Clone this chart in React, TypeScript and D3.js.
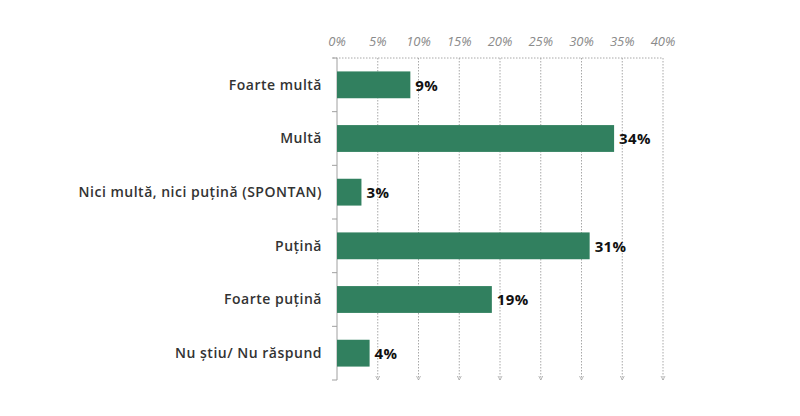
import React, { useRef, useEffect } from 'react';
import * as d3 from 'd3';

const categories = [
  'Foarte multă',
  'Multă',
  'Nici multă, nici puțină (SPONTAN)',
  'Puțină',
  'Foarte puțină',
  'Nu știu/ Nu răspund',
];
const values = [9, 34, 3, 31, 19, 4];
const ticks = [0, 5, 10, 15, 20, 25, 30, 35, 40];

const App = () => {
  const svgRef = useRef<SVGSVGElement>(null);

  useEffect(() => {
    if (!svgRef.current) return;
    const svg = d3.select(svgRef.current);
    svg.selectAll('*').remove();

    const margin = { top: 58, left: 337, right: 137, bottom: 36 };
    const width = 800 - margin.left - margin.right;
    const height = 416 - margin.top - margin.bottom;

    const g = svg.append('g').attr('transform', `translate(${margin.left},${margin.top})`);

    const x = d3.scaleLinear().domain([0, 40]).range([0, width]);
    const y = d3.scaleBand().domain(categories).range([0, height]).paddingInner(0.5).paddingOuter(0.25);

    // dotted gridlines with little arrows at the bottom
    ticks.forEach(t => {
      if (t > 0) {
        g.append('line')
          .attr('x1', x(t)).attr('x2', x(t))
          .attr('y1', 0).attr('y2', height)
          .attr('stroke', '#a8a8a8')
          .attr('stroke-dasharray', '1.5,1.5');
        g.append('path')
          .attr('d', `M${x(t) - 2},${height - 4} L${x(t)},${height} L${x(t) + 2},${height - 4}`)
          .attr('fill', 'none')
          .attr('stroke', '#a8a8a8')
          .attr('stroke-width', 0.8);
      }
    });

    // top axis line (dotted)
    g.append('line')
      .attr('x1', -4).attr('x2', width)
      .attr('y1', 0).attr('y2', 0)
      .attr('stroke', '#a8a8a8')
      .attr('stroke-dasharray', '1.5,1.5');

    // tick labels
    g.selectAll('.tick-label')
      .data(ticks)
      .join('text')
      .attr('x', d => x(d))
      .attr('y', -12)
      .attr('text-anchor', 'middle')
      .attr('font-family', 'Open Sans, sans-serif')
      .attr('font-style', 'italic')
      .attr('font-size', 13)
      .attr('fill', '#8a8a8a')
      .text(d => `${d}%`);

    // left axis with ticks at band boundaries
    g.append('line')
      .attr('x1', 0).attr('x2', 0)
      .attr('y1', 0).attr('y2', height)
      .attr('stroke', '#a0a0a0');
    d3.range(categories.length + 1).forEach(i => {
      const yy = (i * height) / categories.length;
      g.append('line')
        .attr('x1', -5).attr('x2', 0)
        .attr('y1', yy).attr('y2', yy)
        .attr('stroke', '#a0a0a0');
    });

    // bars
    g.selectAll('.bar')
      .data(values)
      .join('rect')
      .attr('x', 0)
      .attr('y', (d, i) => y(categories[i])!)
      .attr('width', d => x(d))
      .attr('height', y.bandwidth())
      .attr('fill', '#31805f');

    // value labels
    g.selectAll('.val')
      .data(values)
      .join('text')
      .attr('x', d => x(d) + 5)
      .attr('y', (d, i) => y(categories[i])! + y.bandwidth() / 2)
      .attr('dy', '0.38em')
      .attr('font-family', 'Open Sans, sans-serif')
      .attr('font-weight', 700)
      .attr('font-size', 15)
      .attr('letter-spacing', 0.4)
      .attr('fill', '#111')
      .text(d => `${d}%`);

    // category labels
    g.selectAll('.cat')
      .data(categories)
      .join('text')
      .attr('x', -15)
      .attr('y', d => y(d)! + y.bandwidth() / 2)
      .attr('dy', '0.35em')
      .attr('text-anchor', 'end')
      .attr('font-family', 'Open Sans, sans-serif')
      .attr('font-weight', 600)
      .attr('font-size', 14)
      .attr('letter-spacing', 0.5)
      .attr('fill', '#333')
      .text(d => d);
  }, []);

  return <svg ref={svgRef} width={800} height={416} style={{ position: 'absolute', left: 0, top: 0, background: '#fff' }} />;
};

export default App;
